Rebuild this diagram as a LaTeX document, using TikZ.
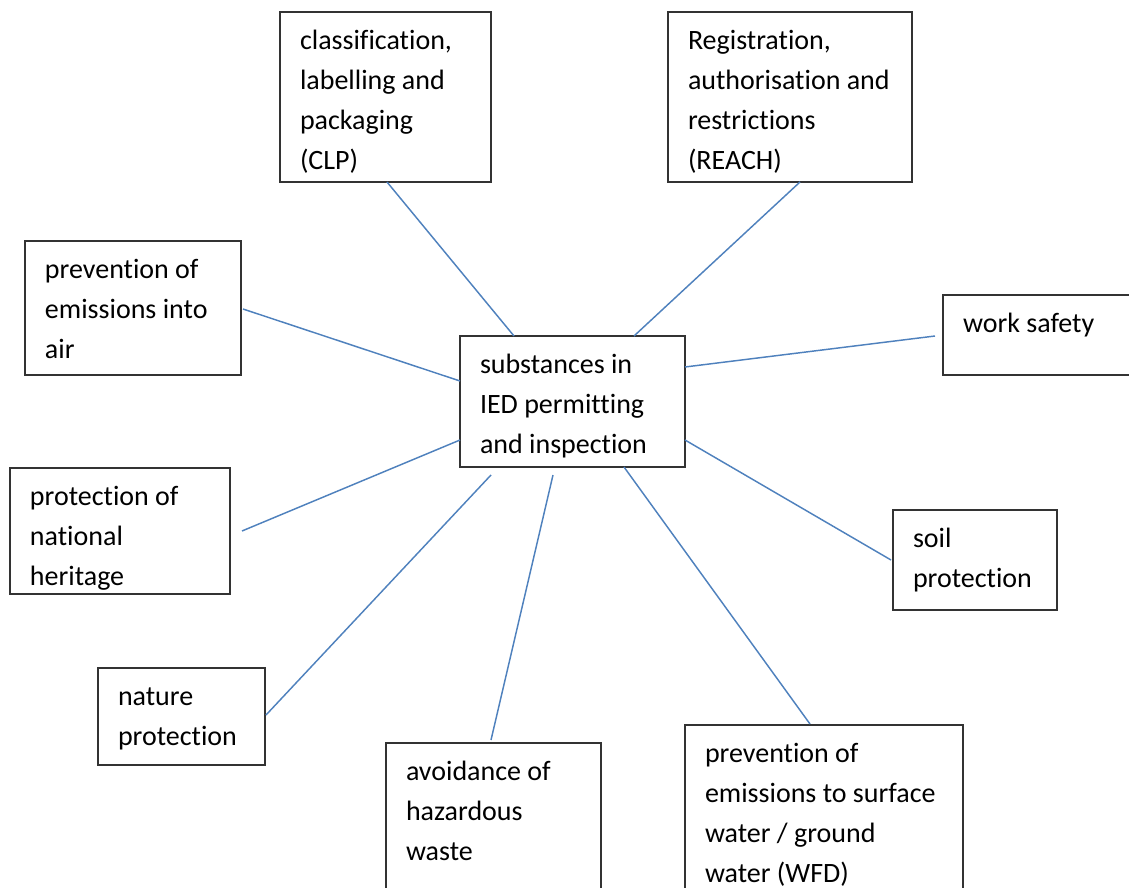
\documentclass[tikz,border=0pt]{standalone}
\usepackage{fontspec}
\setmainfont{Carlito}[Ligatures=NoCommon]
\usetikzlibrary{calc}
\definecolor{linkblue}{RGB}{79,129,189}
% box text: width and height of the box in px, then the lines
\newcommand{\boxtxt}[3]{\parbox[c][\dimexpr 0.75pt*#2-14pt\relax][t]{\dimexpr 0.75pt*#1-30pt\relax}{\raggedright\strut#3}}

\begin{document}
\begin{tikzpicture}
		[x=0.75pt,y=-0.75pt,
		every node/.style={font=\fontsize{21}{30}\selectfont},
		box/.style={draw=black!80, line width=1.1pt, anchor=north west, inner xsep=15pt, inner ysep=7pt, outer sep=0pt},
		link/.style={draw=linkblue, line width=1.1pt}]
		\useasboundingbox (0,0) rectangle (1129,888);
		\clip (0,0) rectangle (1129,888);
		
		% centre
		\node[box] (ctr) at (460,336) {\boxtxt{225}{131}{substances in\\IED permitting\\and inspection}};
		
		% around
		\node[box] (clp) at (280,12) {\boxtxt{211}{170}{classification,\\labelling and\\packaging\\(CLP)}};
		\node[box] (reach) at (668,12) {\boxtxt{244}{170}{Registration,\\authorisation and\\restrictions\\(REACH)}};
		\node[box] (air) at (25,241) {\boxtxt{216}{134}{prevention of\\emissions into\\air}};
		\node[box] (work) at (943,295) {\boxtxt{220}{80}{work safety}};
		\node[box] (herit) at (10,468) {\boxtxt{220}{126}{protection of\\national\\heritage}};
		\node[box] (soil) at (893,510) {\boxtxt{164}{100}{soil\\protection}};
		\node[box] (nature) at (98,668) {\boxtxt{167}{97}{nature\\protection}};
		\node[box] (waste) at (386,743) {\boxtxt{215}{170}{avoidance of\\hazardous\\waste}};
		\node[box] (wfd) at (685,725) {\boxtxt{278}{190}{prevention of\\emissions to surface\\water / ground\\water (WFD)}};
		
		\draw[link] ($(clp.south west)+(107,0)$) -- ($(ctr.north west)+(54,0)$);
		\draw[link] ($(reach.south west)+(132,0)$) -- ($(ctr.north west)+(174,0)$);
		\draw[link] ($(air.north east)+(2,68)$) -- ($(ctr.north west)+(0,45)$);
		\draw[link] ($(ctr.north east)+(0,31)$) -- ($(work.north west)+(-8,41)$);
		\draw[link] ($(ctr.south west)+(0,-27)$) -- ($(herit.north east)+(12,63)$);
		\draw[link] ($(ctr.south east)+(0,-27)$) -- ($(soil.north west)+(-2,50)$);
		\draw[link] ($(ctr.south west)+(31,8)$) -- ($(nature.north east)+(1,47)$);
		\draw[link] ($(ctr.south west)+(93,8)$) -- ($(waste.north west)+(105,-3)$);
		\draw[link] ($(ctr.south west)+(164,0)$) -- ($(wfd.north west)+(125,-1)$);
		
		\end{tikzpicture}
\end{document}
